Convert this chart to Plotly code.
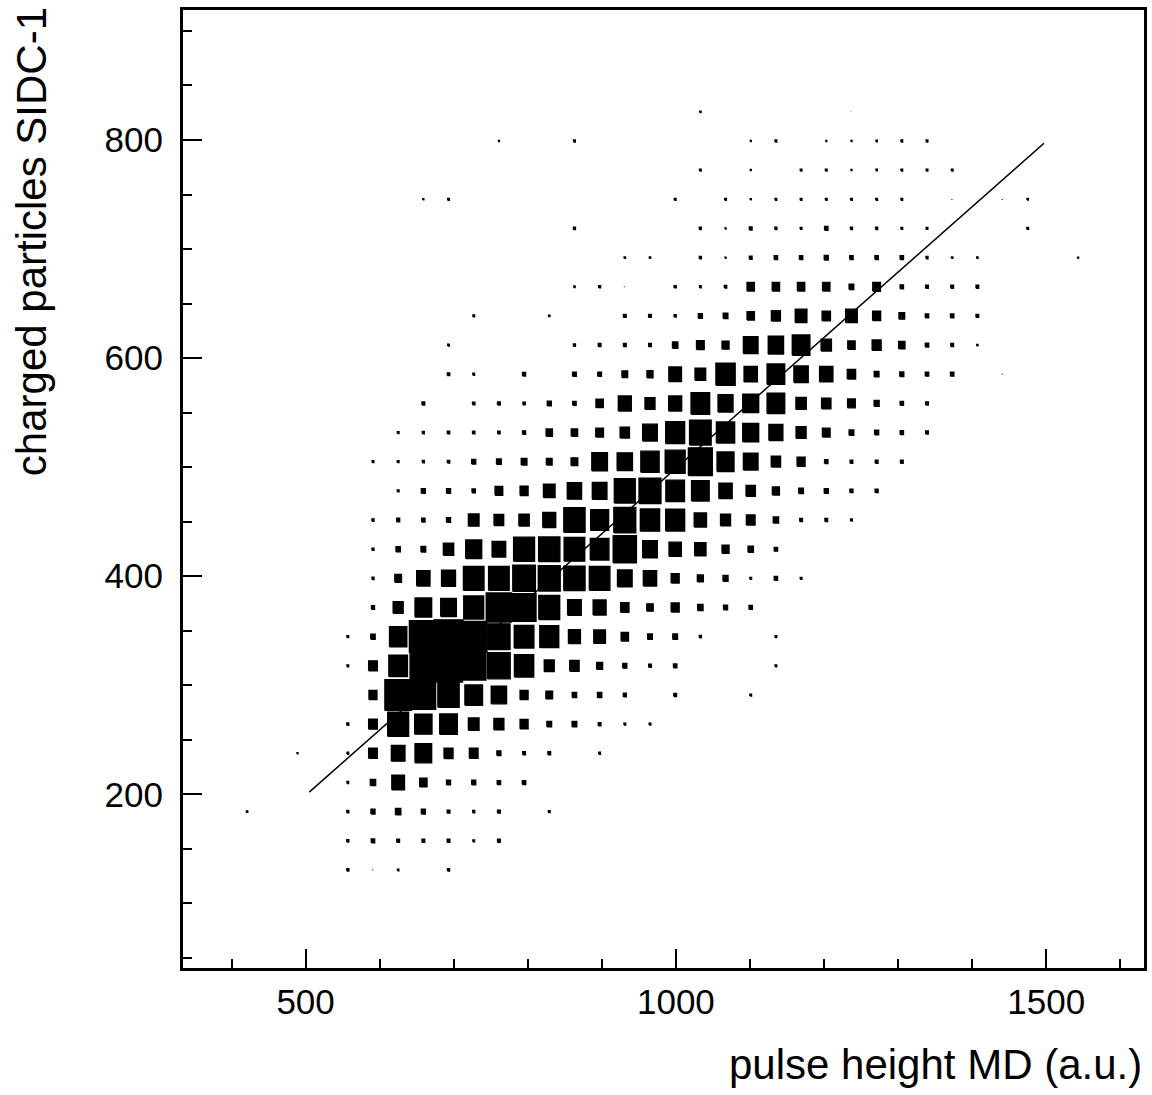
import plotly.graph_objects as go

# Bin centres (pulse height MD, a.u.) for columns i = -4 .. 29
x_centers = [421, 455, 489, 523, 557, 591, 625, 659, 693, 727, 761, 795, 829, 863,
             897, 931, 965, 999, 1033, 1067, 1101, 1135, 1169, 1203, 1237, 1271,
             1305, 1339, 1373, 1407, 1441, 1475, 1509, 1543]
# Bin centres (charged particles SIDC-1) for rows j = 0 .. 26
y_centers = [130.6, 157.3, 184.1, 210.8, 237.6, 264.3, 291.0, 317.8, 344.5, 371.3,
             398.0, 424.7, 451.5, 478.2, 505.0, 531.7, 558.4, 585.2, 611.9, 638.7,
             665.4, 692.1, 718.9, 745.6, 772.4, 799.1, 825.8]
bin_w = 34.0
bin_h = 26.74
full_bin_content = 76.0  # content at which the box fills the bin

# Cell contents, one row per y bin (bottom to top), columns follow x_centers
counts = [
    [0,0,0,0, 6,2,4,0,6,0,0,0,0,0, 0,0,0,0,0,0,0,0,0,0, 0,0,0,0,0,0,0,0,0,0],
    [0,0,0,0, 6,10,8,8,8,5,8,0,0,0, 0,0,0,0,0,0,0,0,0,0, 0,0,0,0,0,0,0,0,0,0],
    [4,0,0,0, 6,12,16,12,8,6,8,0,5,0, 0,0,0,0,0,0,0,0,0,0, 0,0,0,0,0,0,0,0,0,0],
    [0,0,0,0, 5,16,38,22,12,12,10,10,0,0, 0,0,0,0,0,0,0,0,0,0, 0,0,0,0,0,0,0,0,0,0],
    [0,0,3,0, 5,26,41,50,27,26,12,8,8,0, 5,0,0,0,0,0,0,0,0,0, 0,0,0,0,0,0,0,0,0,0],
    [0,0,0,0, 6,26,63,52,53,32,30,24,14,14, 8,5,5,0,0,0,0,0,0,0, 0,0,0,0,0,0,0,0,0,0],
    [0,0,0,0, 0,24,80,74,64,53,46,24,20,13, 13,9,0,8,0,0,5,0,0,0, 0,0,0,0,0,0,0,0,0,0],
    [0,0,0,0, 5,26,56,80,84,74,68,58,30,28, 18,12,8,10,0,0,0,5,0,0, 0,0,0,0,0,0,0,0,0,0],
    [0,0,0,0, 5,13,52,84,88,80,67,59,57,36, 35,22,14,14,6,0,0,5,0,0, 0,0,0,0,0,0,0,0,0,0],
    [0,0,0,0, 0,9,30,50,47,60,76,72,63,41, 39,25,19,24,16,12,10,0,0,0, 0,0,0,0,0,0,0,0,0,0],
    [0,0,0,0, 0,6,20,40,42,62,62,68,66,64, 62,44,40,24,18,15,5,10,5,0, 0,0,0,0,0,0,0,0,0,0],
    [0,0,0,0, 0,6,13,14,31,48,41,63,64,62, 56,70,44,37,34,21,16,10,0,0, 0,0,0,0,0,0,0,0,0,0],
    [0,0,0,0, 0,6,9,10,12,32,29,31,39,64, 54,66,58,57,37,30,26,16,8,8, 5,0,0,0,0,0,0,0,0,0],
    [0,0,0,0, 0,0,5,12,12,10,23,24,35,43, 44,63,66,56,53,40,28,21,14,12, 9,9,0,0,0,0,0,0,0,0],
    [0,0,0,0, 0,5,5,6,7,12,14,17,17,20, 47,46,55,60,72,51,44,28,24,10, 8,8,8,0,0,0,0,0,0,0],
    [0,0,0,0, 0,0,5,6,7,7,7,9,19,19, 23,28,44,57,65,55,48,42,30,23, 14,12,10,8,0,0,0,0,0,0],
    [0,0,0,0, 0,0,0,8,0,7,8,7,12,10, 22,39,30,39,56,45,48,53,31,28, 23,15,10,8,0,0,0,0,0,0],
    [0,0,0,0, 0,0,0,0,7,5,0,9,0,11, 11,17,18,38,32,58,40,53,43,40, 25,14,12,10,10,0,2,0,0,0],
    [0,0,0,0, 0,0,0,0,5,0,0,0,0,6, 8,8,8,16,23,21,44,46,53,31, 22,27,19,10,8,4,0,0,0,0],
    [0,0,0,0, 0,0,0,0,0,5,0,0,4,0, 0,8,8,6,12,14,22,27,35,25, 35,24,17,10,10,8,0,0,0,0],
    [0,0,0,0, 0,0,0,0,0,0,0,0,0,4, 6,2,0,6,5,7,22,22,22,22, 14,23,10,8,8,8,0,0,0,0],
    [0,0,0,0, 0,0,0,0,0,0,0,0,0,0, 0,4,4,0,6,3,8,10,10,12, 10,10,10,6,4,4,0,0,0,3],
    [0,0,0,0, 0,0,0,0,0,0,0,0,0,6, 0,0,0,0,6,3,8,6,5,10, 6,6,5,5,0,0,0,5,0,0],
    [0,0,0,0, 0,0,0,3,5,0,0,0,0,0, 0,0,0,5,0,5,3,5,5,5, 5,5,5,0,2,0,2,4,0,0],
    [0,0,0,0, 0,0,0,0,0,0,0,0,0,0, 0,0,0,0,5,0,3,0,5,5, 3,4,5,5,5,0,0,0,0,0],
    [0,0,0,0, 0,0,0,0,0,0,3,0,0,5, 0,0,0,0,0,0,3,5,0,3, 3,4,5,5,0,0,0,0,0,0],
    [0,0,0,0, 0,0,0,0,0,0,0,0,0,0, 0,0,0,0,4,0,0,0,0,0, 1,0,0,0,0,0,0,0,0,0],
]

# Linear fit drawn over the data
fit_x = [505, 1497]
fit_y = [202, 797]

# x / y axis tick values
x_ticks = [500, 1000, 1500]
y_ticks = [200, 400, 600, 800]

# Build box polygons (side proportional to content)
bx, by = [], []
for j, row in enumerate(counts):
    for k, c in enumerate(row):
        if c <= 0:
            continue
        f = c / full_bin_content
        hw = bin_w * f / 2.0
        hh = bin_h * f / 2.0
        xc, yc = x_centers[k], y_centers[j]
        bx += [xc - hw, xc - hw, xc + hw, xc + hw, xc - hw, None]
        by += [yc - hh, yc + hh, yc + hh, yc - hh, yc - hh, None]

fig = go.Figure()
fig.add_trace(go.Scatter(
    x=bx, y=by, mode="lines", fill="toself",
    fillcolor="black", line=dict(color="black", width=1.4),
    hoverinfo="skip", showlegend=False,
))
fig.add_trace(go.Scatter(
    x=fit_x, y=fit_y, mode="lines",
    line=dict(color="black", width=1.5), showlegend=False,
))

font_family = "Liberation Sans, Arial, Helvetica, sans-serif"

fig.update_layout(
    width=1152, height=1095,
    margin=dict(l=183, r=5, t=10, b=127),
    paper_bgcolor="white", plot_bgcolor="white",
    font=dict(family=font_family, color="black", size=34),
    showlegend=False,
    xaxis=dict(
        range=[334.5, 1632], tickvals=x_ticks, ticktext=[str(v) for v in x_ticks],
        ticks="inside", ticklen=19, tickwidth=2, tickcolor="black",
        minor=dict(dtick=100, tick0=0, ticks="inside", ticklen=9, tickwidth=2,
                   tickcolor="black", showgrid=False),
        showline=True, linewidth=3, linecolor="black", mirror=True,
        showgrid=False, zeroline=False,
        tickfont=dict(size=35, family=font_family, color="black"),
        ticklabelstandoff=1,
    ),
    yaxis=dict(
        range=[40.7, 919.2], tickvals=y_ticks, ticktext=[str(v) for v in y_ticks],
        ticks="inside", ticklen=19, tickwidth=2, tickcolor="black",
        minor=dict(dtick=50, tick0=0, ticks="inside", ticklen=9, tickwidth=2,
                   tickcolor="black", showgrid=False),
        showline=True, linewidth=3, linecolor="black", mirror=True,
        showgrid=False, zeroline=False,
        tickfont=dict(size=35, family=font_family, color="black"),
        ticklabelstandoff=10,
    ),
    annotations=[
        dict(text="pulse height MD (a.u.)", xref="paper", yref="paper",
             x=1.0, y=-0.1005, xanchor="right", yanchor="middle", showarrow=False,
             font=dict(size=42, family=font_family, color="black")),
        dict(text="charged particles SIDC-1", xref="paper", yref="paper",
             x=-0.1577, y=1.005, xanchor="center", yanchor="top", textangle=-90,
             showarrow=False,
             font=dict(size=42, family=font_family, color="black")),
    ],
)

fig.write_html("out.html")
